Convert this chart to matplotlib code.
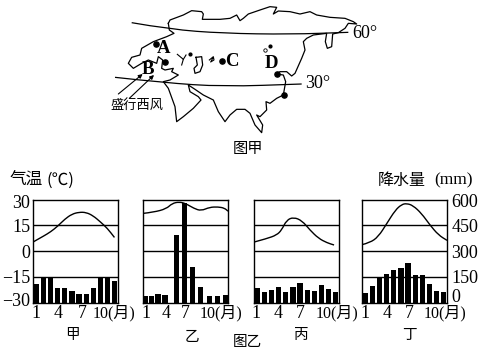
import matplotlib
matplotlib.use("Agg")
import matplotlib.pyplot as plt
from matplotlib.path import Path
from matplotlib.patches import PathPatch
from matplotlib.transforms import ScaledTranslation

W, H = 487, 354
SERIF = ["Liberation Serif", "Noto Sans CJK SC"]
CJK = ["Noto Sans CJK SC", "DejaVu Sans"]

# ---- climate data ----
TEMP_TICKS = [-30, -15, 0, 15, 30]
RAIN_TICKS = [0, 150, 300, 450, 600]
MONTHS = [1, 2, 3, 4, 5, 6, 7, 8, 9, 10, 11, 12]

jia_rain = [108, 147, 147, 87, 87, 68, 50, 50, 83, 147, 147, 126]
jia_temp_m = [0.5, 1, 2, 3, 4, 5, 6, 7, 8, 9, 10, 11, 12]
jia_temp = [5.2, 6.4, 8.7, 11.2, 14.5, 18.6, 21.5, 22.6, 22.5, 20.5, 17, 13.2, 7.9]

yi_rain_m = [0.88, 1.73, 2.63, 3.62, 5.18, 6.4, 7.54, 8.67, 9.85, 11.03, 12.1]
yi_rain = [37, 37, 52, 45, 391, 577, 205, 89, 39, 39, 45]
yi_temp_m = [0.5, 2, 3.8, 4.6, 5.6, 6.5, 7.7, 8.7, 9.9, 11.1, 12, 12.5]
yi_temp = [21.9, 22.6, 24.6, 27.7, 28.6, 27.7, 24.8, 23.4, 25.5, 25.7, 25, 23.2]

bing_rain = [85, 62, 72, 91, 62, 93, 116, 73, 66, 101, 77, 64]
bing_temp_m = [0.5, 2.3, 3.7, 4.4, 5.1, 6.1, 7.3, 8.4, 9.6, 10.8, 11.8]
bing_temp = [5.2, 7.2, 9.3, 12.2, 18, 19.7, 17.6, 12.2, 7.4, 4.8, 3.5]

ding_rain = [54, 97, 147, 166, 190, 199, 228, 161, 161, 108, 68, 60]
ding_temp_m = [0.5, 1.6, 2.8, 4, 5.2, 6.1, 6.8, 7.7, 8.9, 10.1, 11.3, 12.5]
ding_temp = [3.7, 4.8, 8.3, 16, 23.8, 27.1, 27.7, 26.5, 21.9, 15.1, 9.3, 6.2]

# ---- map data ----
coast = [(235, 70), (240, 60), (280, 45), (305, 32), (335, 35), (340, 42), (337, 58), (360, 58),
         (390, 58), (420, 55), (440, 45), (450, 62), (460, 55), (475, 42), (510, 30), (540, 20),
         (560, 22), (550, 42), (565, 33), (600, 35), (630, 42), (660, 35), (680, 45), (720, 52),
         (765, 55), (790, 65), (800, 72), (775, 70), (765, 85), (745, 98), (728, 102), (725, 140),
         (712, 145), (706, 125), (710, 100), (670, 105), (650, 115), (640, 125), (645, 150),
         (635, 175), (615, 220), (605, 228), (590, 215), (570, 215), (558, 222), (580, 225),
         (587, 245), (580, 285), (560, 295), (540, 310), (528, 305), (530, 330), (510, 350),
         (500, 345), (518, 375), (515, 398), (495, 375), (480, 340), (465, 328), (440, 328),
         (420, 345), (405, 365), (385, 335), (370, 300), (340, 285), (315, 268), (295, 255),
         (300, 275), (325, 290), (333, 300), (310, 325), (280, 350), (260, 365), (255, 320),
         (235, 265), (220, 245), (240, 240), (265, 225), (245, 215), (250, 205), (225, 210),
         (215, 205), (218, 180), (205, 170), (200, 190), (175, 180), (155, 190), (130, 205),
         (115, 190), (125, 172), (150, 165), (155, 145), (190, 125), (230, 110), (252, 100),
         (238, 90), (235, 70)]
caspian = [(318, 172), (335, 170), (338, 195), (330, 215), (315, 220), (312, 205), (322, 195), (318, 172)]
aral = [(358, 180), (370, 170), (372, 180), (362, 186), (368, 175)]
black_sea_a = [(262, 163), (280, 178), (275, 195)]
black_sea_b = [(288, 165), (280, 178)]
lat60 = [(125, 68), (240, 88), (400, 100), (600, 103), (775, 97)]
lat30 = [(75, 232), (220, 248), (400, 260), (635, 252)]
city_x = [197, 225, 395, 560, 581]
city_y = [131, 186, 184, 221, 286]
small_x = [300, 540]
small_y = [162, 137]


def px_axes(fig, l, t, r, b):
    return fig.add_axes([l / W, 1 - b / H, (r - l) / W, (b - t) / H])


def smooth(ax, xs, ys, lw=1.0):
    # quadratic curve through the midpoints, keeps the hand drawn look
    verts = [(xs[0], ys[0])]
    codes = [Path.MOVETO]
    for i in range(1, len(xs) - 1):
        verts += [(xs[i], ys[i]), ((xs[i] + xs[i + 1]) / 2, (ys[i] + ys[i + 1]) / 2)]
        codes += [Path.CURVE3, Path.CURVE3]
    verts.append((xs[-1], ys[-1]))
    codes.append(Path.LINETO)
    ax.add_patch(PathPatch(Path(verts, codes), fc="none", ec="black", lw=lw, zorder=3))


def panel(l, r, bar_x, rain, temp_x, temp):
    ax = px_axes(fig, l, 199.5, r, 302.5)
    ax.set_xlim(0.5, 12.5)
    ax.set_ylim(-30, 30)
    ax.set_yticks([-15, 0, 15])
    ax.set_yticklabels([])
    ax.set_xticks([])
    ax.tick_params(length=0)
    for v in [-15, 0, 15]:
        ax.axhline(v, color="black", lw=1.0, zorder=2)
    for s in ax.spines.values():
        s.set_linewidth(1.0)
    smooth(ax, temp_x, temp)
    rax = ax.twinx()
    rax.set_ylim(0, 600)
    rax.set_yticks([])
    rax.bar(bar_x, rain, width=0.74, color="black", zorder=4)
    for s in rax.spines.values():
        s.set_visible(False)
    return ax, rax


def nudge(label, px_up):
    # end labels sit inside the axis range in the original
    label.set_transform(label.get_transform() + ScaledTranslation(0, px_up / 100, fig.dpi_scale_trans))


fig = plt.figure(figsize=(W / 100, H / 100), dpi=100, facecolor="white")

ax1, _ = panel(33, 118, MONTHS, jia_rain, jia_temp_m, jia_temp)
panel(143, 228, yi_rain_m, yi_rain, yi_temp_m, yi_temp)
panel(254, 339, MONTHS, bing_rain, bing_temp_m, bing_temp)
_, rax4 = panel(362, 447, MONTHS, ding_rain, ding_temp_m, ding_temp)

ax1.set_yticks(TEMP_TICKS)
ax1.set_yticklabels([str(v).replace("-", "−") for v in TEMP_TICKS], family=SERIF, fontsize=13)
ax1.tick_params(axis="y", pad=2)
nudge(ax1.get_yticklabels()[0], 2.5)
nudge(ax1.get_yticklabels()[4], -1.5)
rax4.set_yticks(RAIN_TICKS)
rax4.set_yticklabels([str(v) for v in RAIN_TICKS], family=SERIF, fontsize=13)
rax4.tick_params(axis="y", length=0, pad=3)
nudge(rax4.get_yticklabels()[0], 7.5)
nudge(rax4.get_yticklabels()[4], -1)

# everything else is laid out in picture pixels
ov = fig.add_axes([0, 0, 1, 1], facecolor="none")
ov.set_xlim(0, W)
ov.set_ylim(H, 0)
ov.axis("off")

for x1, x4, x7, x10 in [(36, 58, 82, 93), (146, 166, 185, 200), (256, 278, 300, 316), (365, 387, 409, 424)]:
    for x, t in [(x1, "1"), (x4, "4"), (x7, "7")]:
        ov.text(x, 313, t, family=SERIF, fontsize=13, ha="center", va="center")
    ov.text(x10, 313, "10(月)", family=SERIF, fontsize=11.5, ha="left", va="center")

for x, y, t in [(72, 335, "甲"), (192, 337, "乙"), (301, 335, "丙"), (409, 335, "丁")]:
    ov.text(x, y, t, family=CJK, fontsize=10.5, ha="center", va="center")
ov.text(247, 342, "图乙", family=CJK, fontsize=10.5, ha="center", va="center")

ov.text(10, 180, "气温", family=CJK, fontsize=12, ha="left", va="center")
ov.text(47, 180, "(℃)", family=CJK, fontsize=12, ha="left", va="center")
ov.text(378, 180, "降水量", family=CJK, fontsize=11.5, ha="left", va="center")
ov.text(434, 180, "(mm)", family=SERIF, fontsize=12.5, ha="left", va="center")
ov.text(248, 148, "图甲", family=CJK, fontsize=11, ha="center", va="center")

# map, in its own 3x units
mp = px_axes(fig, 90, 0, 390, 155)
mp.set_facecolor("none")
mp.set_xlim(0, 900)
mp.set_ylim(465, 0)
mp.axis("off")

for line, lw in [(coast, 0.9), (caspian, 0.9), (aral, 0.8), (black_sea_a, 0.8), (black_sea_b, 0.8)]:
    mp.plot([p[0] for p in line], [p[1] for p in line], color="black", lw=lw, solid_joinstyle="round")
for line in [lat60, lat30]:
    smooth(mp, [p[0] for p in line], [p[1] for p in line], lw=0.9)
mp.scatter(city_x, city_y, s=14, color="black", zorder=5)
mp.scatter(small_x, small_y, s=4, color="black", zorder=5)
mp.scatter([525], [150], s=6, facecolor="white", edgecolor="black", lw=0.6, zorder=5)

for (x0, y0), (x1, y1) in [((85, 282), (158, 222)), ((118, 295), (192, 225))]:
    mp.annotate("", xy=(x1, y1), xytext=(x0, y0),
                arrowprops=dict(arrowstyle="-|>", color="black", lw=0.8, mutation_scale=6,
                                shrinkA=0, shrinkB=0))

for x, y, t in [(222, 146, "A"), (175, 207, "B"), (427, 185, "C"), (543, 190, "D")]:
    mp.text(x, y, t, family=SERIF, fontsize=13.5, fontweight="bold", ha="center", va="center")
mp.text(825, 100, "60°", family=SERIF, fontsize=13, ha="center", va="center")
mp.text(682, 250, "30°", family=SERIF, fontsize=13, ha="center", va="center")
mp.text(140, 315, "盛行西风", family=CJK, fontsize=9.5, ha="center", va="center")

fig.savefig("out.png", dpi=100, facecolor="white")
